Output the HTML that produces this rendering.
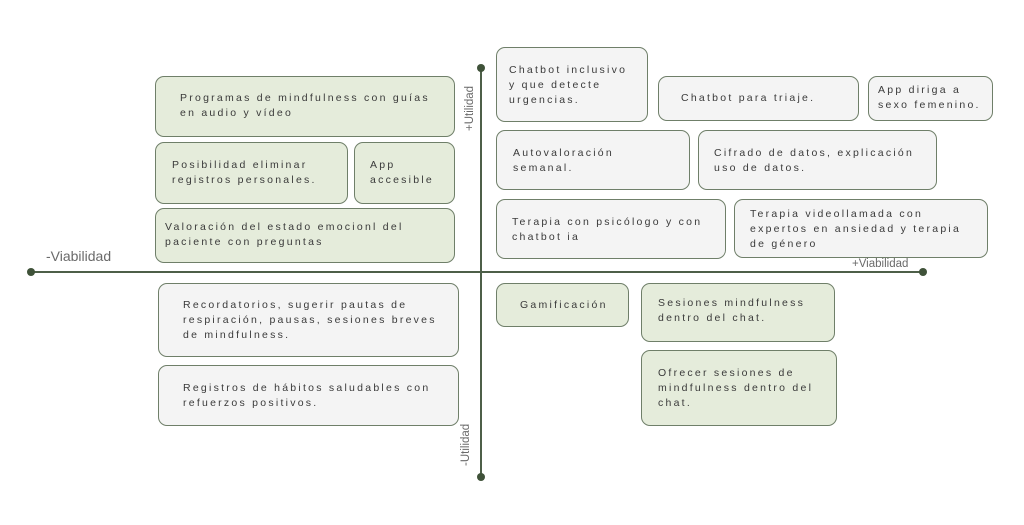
<!DOCTYPE html>
<html><head><meta charset="utf-8"><style>
body{margin:0;width:1024px;height:525px;background:#fff;position:relative;overflow:hidden;font-family:"Liberation Sans",sans-serif}
.b{position:absolute;box-sizing:border-box;border:1px solid #6f7f69;border-radius:9px}
.g{background:#e5ecdb}.w{background:#f4f4f4}
.t{position:absolute;font-size:10.5px;letter-spacing:2.25px;line-height:15px;color:#3a3a3a;white-space:pre;margin-top:2px}
.lab{position:absolute;color:#6a6a6a;white-space:nowrap}
</style></head><body>
<svg width="1024" height="525" style="position:absolute;left:0;top:0">
<line x1="31" y1="272" x2="923" y2="272" stroke="#4d5f48" stroke-width="2"/>
<line x1="481" y1="68" x2="481" y2="477" stroke="#4d5f48" stroke-width="2"/>
<circle cx="31" cy="272" r="4" fill="#3f5239"/><circle cx="923" cy="272" r="4" fill="#3f5239"/>
<circle cx="481" cy="68" r="4" fill="#3f5239"/><circle cx="481" cy="477" r="4" fill="#3f5239"/>
</svg>
<div class="b g" style="left:155px;top:76px;width:300px;height:61px"></div>
<div class="t" style="left:180px;top:89px">Programas de mindfulness con guías
en audio y vídeo</div>
<div class="b g" style="left:155px;top:142px;width:193px;height:62px"></div>
<div class="t" style="left:172px;top:156px">Posibilidad eliminar
registros personales.</div>
<div class="b g" style="left:354px;top:142px;width:101px;height:62px"></div>
<div class="t" style="left:370px;top:156px">App
accesible</div>
<div class="b g" style="left:155px;top:208px;width:300px;height:55px"></div>
<div class="t" style="left:165px;top:218px">Valoración del estado emocionl del
paciente con preguntas</div>

<div class="b w" style="left:496px;top:47px;width:152px;height:75px"></div>
<div class="t" style="left:509px;top:61px">Chatbot inclusivo
y que detecte
urgencias.</div>
<div class="b w" style="left:658px;top:76px;width:201px;height:45px"></div>
<div class="t" style="left:681px;top:89px">Chatbot para triaje.</div>
<div class="b w" style="left:868px;top:76px;width:125px;height:45px"></div>
<div class="t" style="left:878px;top:81px">App diriga a
sexo femenino.</div>
<div class="b w" style="left:496px;top:130px;width:194px;height:60px"></div>
<div class="t" style="left:513px;top:144px">Autovaloración
semanal.</div>
<div class="b w" style="left:698px;top:130px;width:239px;height:60px"></div>
<div class="t" style="left:714px;top:144px">Cifrado de datos, explicación
uso de datos.</div>
<div class="b w" style="left:496px;top:199px;width:230px;height:60px"></div>
<div class="t" style="left:512px;top:213px">Terapia con psicólogo y con
chatbot ia</div>
<div class="b w" style="left:734px;top:199px;width:254px;height:59px"></div>
<div class="t" style="left:750px;top:205px">Terapia videollamada con
expertos en ansiedad y terapia
de género</div>

<div class="b w" style="left:158px;top:283px;width:301px;height:74px"></div>
<div class="t" style="left:183px;top:296px">Recordatorios, sugerir pautas de
respiración, pausas, sesiones breves
de mindfulness.</div>
<div class="b w" style="left:158px;top:365px;width:301px;height:61px"></div>
<div class="t" style="left:183px;top:379px">Registros de hábitos saludables con
refuerzos positivos.</div>
<div class="b g" style="left:496px;top:283px;width:133px;height:44px"></div>
<div class="t" style="left:520px;top:296px">Gamificación</div>
<div class="b g" style="left:641px;top:283px;width:194px;height:59px"></div>
<div class="t" style="left:658px;top:294px">Sesiones mindfulness
dentro del chat.</div>
<div class="b g" style="left:641px;top:350px;width:196px;height:76px"></div>
<div class="t" style="left:658px;top:364px">Ofrecer sesiones de
mindfulness dentro del
chat.</div>

<div class="lab" style="left:46px;top:248px;font-size:14px">-Viabilidad</div>
<div class="lab" style="left:852px;top:258px;font-size:11.5px">+Viabilidad</div>
<div class="lab" style="left:464px;top:131px;font-size:11.5px;transform:rotate(-90deg);transform-origin:0 0">+Utilidad</div>
<div class="lab" style="left:460px;top:466px;font-size:11.5px;transform:rotate(-90deg);transform-origin:0 0">-Utilidad</div>
</body></html>
